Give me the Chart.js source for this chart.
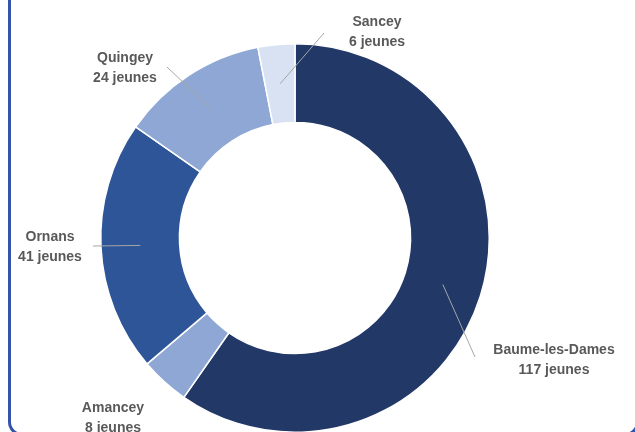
<!DOCTYPE html>
<html>
<head>
<meta charset="utf-8">
<script src="https://cdn.jsdelivr.net/npm/chart.js@4.4.0/dist/chart.umd.min.js"></script>
<style>
  html, body { margin: 0; padding: 0; background: #fff; overflow: hidden; }
  #wrap { position: relative; width: 635px; height: 432px; overflow: hidden; }
  #frame {
    position: absolute; left: 8px; top: -30px; width: 631px; height: 466px;
    border: 3px solid #3553a8; border-radius: 14px; box-sizing: border-box;
  }
  #myChart { position: absolute; left: 0; top: 0; }
</style>
</head>
<body>
<div id="wrap">
  <div id="frame"></div>
  <canvas id="myChart" width="635" height="440"></canvas>
</div>
<script>
// data, clockwise from the top
const towns = ['Baume-les-Dames', 'Amancey', 'Ornans', 'Quingey', 'Sancey'];
const jeunes = [117, 8, 41, 24, 6];
const colors = ['#223867', '#8ea7d4', '#2e5597', '#8ea7d4', '#d9e2f2'];

// label placement (text centre, leader end point or null)
const labelPos = [
  { x: 554, y: 350, end: [475, 357] },
  { x: 113, y: 408, end: null },
  { x: 50, y: 237, end: [93, 246] },
  { x: 125, y: 58, end: [167, 67] },
  { x: 377, y: 22, end: [324, 33] }
];

const calloutPlugin = {
  id: 'callouts',
  afterDatasetsDraw(chart) {
    const ctx = chart.ctx;
    const arcs = chart.getDatasetMeta(0).data;
    ctx.save();
    arcs.forEach((arc, i) => {
      const p = labelPos[i];
      if (p.end) {
        const mid = arc.tooltipPosition();
        ctx.strokeStyle = '#a6a6a6';
        ctx.lineWidth = 1;
        ctx.beginPath();
        ctx.moveTo(mid.x, mid.y);
        ctx.lineTo(p.end[0], p.end[1]);
        ctx.stroke();
      }
      ctx.fillStyle = '#595959';
      ctx.font = 'bold 14px "Liberation Sans", Arial, sans-serif';
      ctx.textAlign = 'center';
      ctx.textBaseline = 'middle';
      ctx.fillText(towns[i], p.x, p.y);
      ctx.fillText(jeunes[i] + ' jeunes', p.x, p.y + 20);
    });
    ctx.restore();
  }
};

const ctx = document.getElementById('myChart').getContext('2d');
new Chart(ctx, {
  type: 'doughnut',
  data: {
    labels: towns,
    datasets: [{
      data: jeunes,
      backgroundColor: colors,
      borderColor: '#ffffff',
      borderWidth: 1.5
    }]
  },
  options: {
    responsive: false,
    animation: false,
    cutout: '59.5%',
    layout: { padding: { top: 43, bottom: 7, left: 100, right: 145 } },
    plugins: {
      legend: { display: false },
      tooltip: { enabled: false }
    }
  },
  plugins: [calloutPlugin]
});
</script>
</body>
</html>
